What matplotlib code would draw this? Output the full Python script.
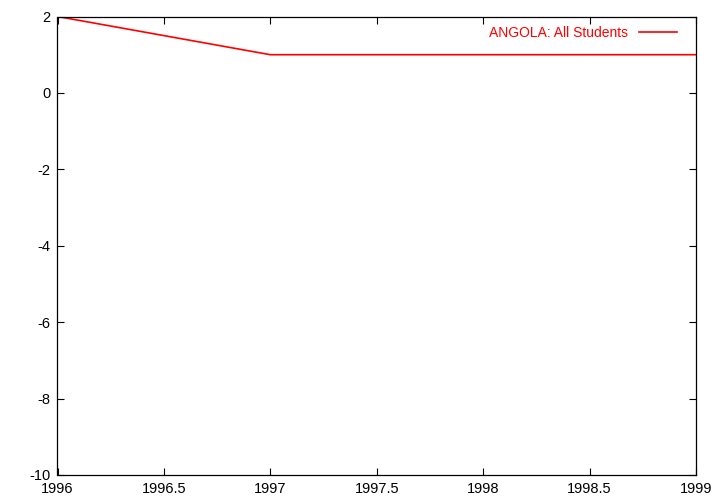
import matplotlib
matplotlib.use("Agg")
import matplotlib.pyplot as plt

years = [1996, 1997, 1998, 1999]
values = [2, 1, 1, 1]
label = "ANGOLA: All Students"
xticks = [1996, 1996.5, 1997, 1997.5, 1998, 1998.5, 1999]
xticklabels = ["1996", "1996.5", "1997", "1997.5", "1998", "1998.5", "1999"]
yticks = [-10, -8, -6, -4, -2, 0, 2]
yticklabels = ["-10", "-8", "-6", "-4", "-2", "0", "2"]

plt.rcParams['font.family'] = ['Liberation Sans', 'DejaVu Sans']

fig = plt.figure(figsize=(7.2, 5.04), dpi=100)
ax = fig.add_axes([57.5/720, 1-475/504, (696-57.5)/720, (475-16.5)/504])
ax.plot(years, values, color='#ff0000', lw=1.2, label=label)
ax.set_xlim(1996, 1999)
ax.set_ylim(-10, 2)
ax.set_xticks(xticks)
ax.set_xticklabels(xticklabels)
ax.set_yticks(yticks)
ax.set_yticklabels(yticklabels)
ax.tick_params(direction='in', top=True, right=True, length=5, width=0.8,
               labelsize=10.5, colors='black')
ax.tick_params(axis='x', pad=5)
ax.tick_params(axis='y', pad=5)
for s in ax.spines.values():
    s.set_linewidth(0.9)
leg = ax.legend(loc='upper right', frameon=False, markerfirst=False,
                fontsize=10, handlelength=2.8, borderaxespad=0.0,
                handletextpad=0.75, bbox_to_anchor=(1 - 13/638.5, 1 - 3.5/458.5))
for t in leg.get_texts():
    t.set_color('#ff0000')
fig.savefig("out.png", dpi=100)
